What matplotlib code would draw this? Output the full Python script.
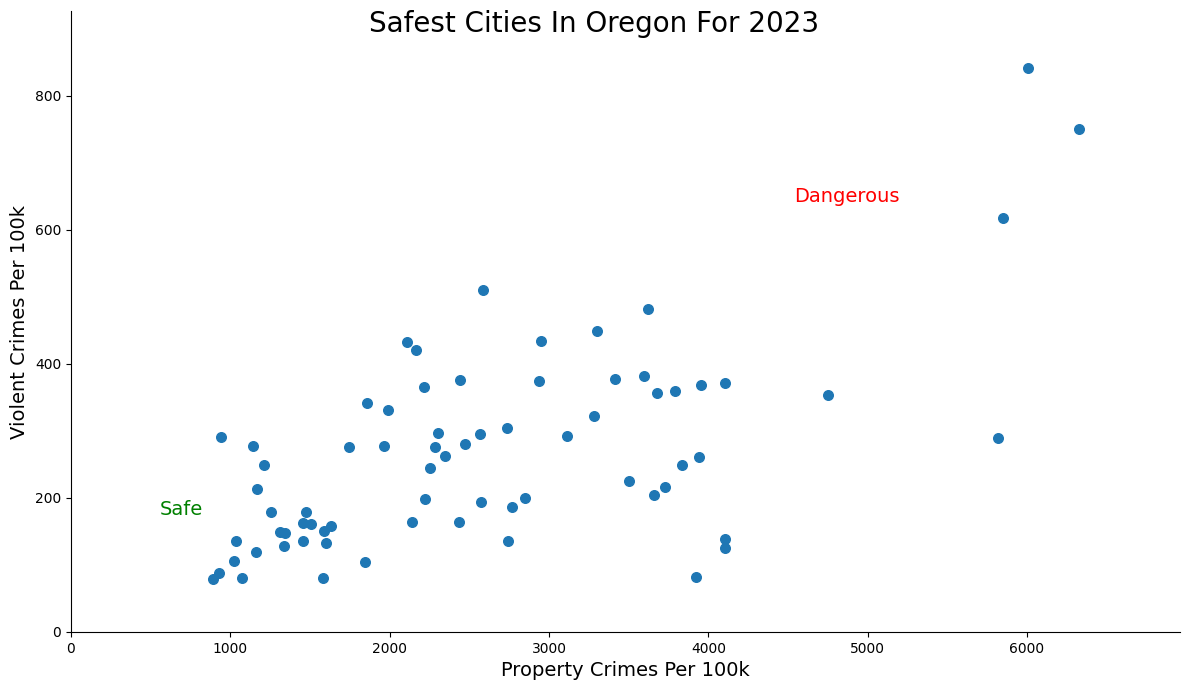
import matplotlib
matplotlib.use("Agg")
import matplotlib.pyplot as plt

# property crimes per 100k (x) and violent crimes per 100k (y), one per city
property_crimes = [
    6006, 6327, 5850, 4751, 5818,
    2587, 3299, 2111, 2168, 2952, 2444, 2940, 2218, 1860, 1992,
    3282, 2739, 3115, 2305, 2569, 1747, 1967, 2286, 2475, 2349,
    2255, 2224, 2575, 2852, 2770, 2142, 2437, 2745, 1847, 1584,
    1477, 1454, 1508, 1588, 1634, 1458, 1602,
    943, 1144, 1213, 1169, 1257, 1314, 1345, 1037, 1338, 1161,
    1025, 931, 893, 1075,
    3623, 3416, 3598, 3680, 3793, 3956, 4107, 3943, 3837, 3504,
    3730, 3661, 4107, 4107, 3925,
]
violent_crimes = [
    842, 751, 618, 354, 290,
    510, 449, 432, 420, 434, 376, 374, 365, 341, 331,
    322, 305, 292, 297, 295, 276, 277, 276, 280, 262,
    244, 198, 194, 200, 186, 164, 164, 135, 104, 81,
    179, 162, 161, 150, 158, 135, 132,
    291, 277, 249, 214, 179, 149, 147, 135, 128, 120,
    106, 88, 79, 80,
    482, 378, 382, 356, 359, 368, 371, 261, 249, 225,
    217, 205, 139, 125, 82,
]

fig = plt.figure(figsize=(11.89, 6.91), dpi=100)
ax = fig.add_axes([0.0597, 0.0854, 0.9327, 0.8986])

ax.scatter(property_crimes, violent_crimes, s=48, color="#1f77b4")

ax.set_xlim(0, max(property_crimes) * 1.1)
ax.set_ylim(0, max(violent_crimes) * 1.1)

ax.text(560, 183, "Safe", color="green", fontsize=14, va="center")
ax.text(4540, 649, "Dangerous", color="red", fontsize=14, va="center")

ax.set_xlabel("Property Crimes Per 100k", fontsize=14)
ax.set_ylabel("Violent Crimes Per 100k", fontsize=14)
ax.spines["top"].set_visible(False)
ax.spines["right"].set_visible(False)

fig.suptitle("Safest Cities In Oregon For 2023", fontsize=20, y=0.985)

fig.savefig("out.png", dpi=100, facecolor="white")
